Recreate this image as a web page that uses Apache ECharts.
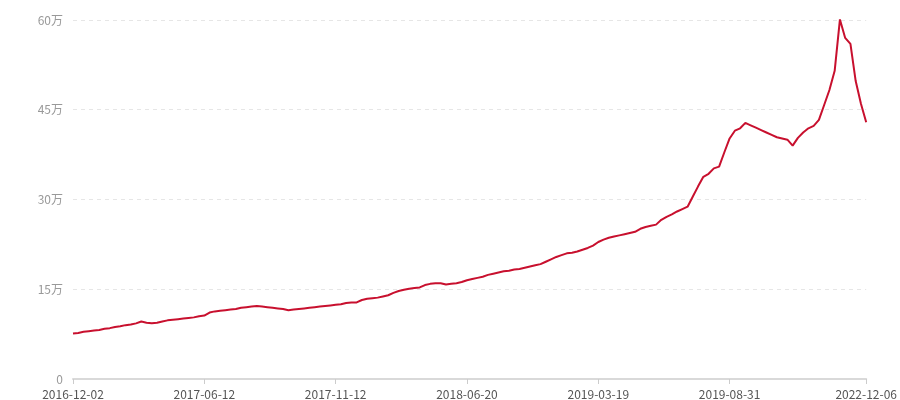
<!DOCTYPE html>
<html>
<head>
<meta charset="utf-8">
<script src="https://cdn.jsdelivr.net/npm/echarts@6/dist/echarts.min.js"></script>
<style>
  html, body { margin: 0; padding: 0; background: #fff; }
  #main { width: 900px; height: 400px; }
</style>
</head>
<body>
<div id="main"></div>
<script>
// 日期（类目轴）
var dates = [
  '2016-12-02','2016-12-09','2016-12-16','2016-12-23','2016-12-30','2017-01-06','2017-01-13','2017-01-20','2017-02-03','2017-02-10',
  '2017-02-17','2017-02-24','2017-03-03','2017-03-10','2017-03-17','2017-03-24','2017-03-31','2017-04-07','2017-04-14','2017-04-21',
  '2017-04-28','2017-05-12','2017-05-19','2017-05-26','2017-06-02','2017-06-12','2017-06-18','2017-06-24','2017-06-30','2017-07-06',
  '2017-07-12','2017-07-18','2017-07-24','2017-07-30','2017-08-05','2017-08-11','2017-08-17','2017-08-23','2017-08-29','2017-09-04',
  '2017-09-10','2017-09-16','2017-09-22','2017-09-28','2017-10-04','2017-10-10','2017-10-16','2017-10-22','2017-10-28','2017-11-04',
  '2017-11-12','2017-11-20','2017-11-28','2017-12-06','2017-12-14','2017-12-22','2017-12-30','2018-01-08','2018-01-17','2018-01-26',
  '2018-02-04','2018-02-13','2018-02-22','2018-03-03','2018-03-12','2018-03-21','2018-03-30','2018-04-08','2018-04-17','2018-04-26',
  '2018-05-05','2018-05-14','2018-05-23','2018-06-01','2018-06-10','2018-06-20','2018-07-01','2018-07-12','2018-07-23','2018-08-03',
  '2018-08-14','2018-08-25','2018-09-05','2018-09-16','2018-09-27','2018-10-08','2018-10-19','2018-10-30','2018-11-10','2018-11-21',
  '2018-12-02','2018-12-13','2018-12-24','2019-01-04','2019-01-15','2019-01-26','2019-02-06','2019-02-17','2019-02-28','2019-03-09',
  '2019-03-19','2019-03-26','2019-04-02','2019-04-09','2019-04-16','2019-04-23','2019-04-30','2019-05-07','2019-05-14','2019-05-21',
  '2019-05-28','2019-06-04','2019-06-11','2019-06-18','2019-06-25','2019-07-02','2019-07-09','2019-07-16','2019-07-23','2019-07-30',
  '2019-08-06','2019-08-12','2019-08-18','2019-08-22','2019-08-27','2019-08-31','2019-10-15','2019-12-01','2020-01-15','2020-03-01',
  '2020-04-15','2020-06-01','2020-07-15','2020-09-01','2020-10-15','2020-12-01','2021-01-15','2021-03-01','2021-04-15','2021-06-01',
  '2021-07-15','2021-09-01','2021-10-15','2021-11-15','2021-12-15','2022-01-01','2022-02-01','2022-04-01','2022-06-01','2022-08-01',
  '2022-10-01','2022-12-06'
];

// 数值（单位：万）
var values = [
  7.6, 7.7, 7.9, 8.0, 8.1, 8.2, 8.4, 8.5, 8.7, 8.8,
  9.0, 9.1, 9.3, 9.6, 9.4, 9.3, 9.4, 9.6, 9.8, 9.9,
  10.0, 10.1, 10.2, 10.3, 10.5, 10.6, 11.1, 11.3, 11.4, 11.5,
  11.6, 11.7, 11.9, 12.0, 12.1, 12.2, 12.1, 12.0, 11.9, 11.8,
  11.7, 11.5, 11.6, 11.7, 11.8, 11.9, 12.0, 12.1, 12.2, 12.3,
  12.4, 12.5, 12.7, 12.8, 12.8, 13.2, 13.4, 13.5, 13.6, 13.8,
  14.0, 14.4, 14.7, 14.9, 15.1, 15.2, 15.3, 15.7, 15.9, 16.0,
  16.0, 15.8, 15.9, 16.0, 16.2, 16.5, 16.7, 16.9, 17.1, 17.4,
  17.6, 17.8, 18.0, 18.1, 18.3, 18.4, 18.6, 18.8, 19.0, 19.2,
  19.6, 20.0, 20.4, 20.7, 21.0, 21.1, 21.3, 21.6, 21.9, 22.3,
  22.9, 23.3, 23.6, 23.8, 24.0, 24.2, 24.4, 24.6, 25.1, 25.4,
  25.6, 25.8, 26.6, 27.1, 27.5, 28.0, 28.4, 28.8, 30.5, 32.2,
  33.8, 34.3, 35.2, 35.5, 37.9, 40.2, 41.5, 41.9, 42.8, 42.4,
  42.0, 41.6, 41.2, 40.8, 40.4, 40.2, 40.0, 39.0, 40.3, 41.2,
  41.9, 42.3, 43.3, 45.8, 48.3, 51.5, 60.1, 57.0, 56.0, 49.8,
  46.0, 42.9
];

var yTicks = [0, 15, 30, 45, 60];

var lastIdx = dates.length - 1;
function showIdx(i) { return i % 25 === 0 || i === lastIdx; }

var myChart = echarts.init(document.getElementById('main'));
var option = {
    animation: false,
    grid: { left: 73, right: 32, top: 20, bottom: 20, containLabel: false },
    xAxis: {
        type: 'category',
        boundaryGap: false,
        data: dates,
        axisLine: { lineStyle: { color: '#d9d9d9', width: 2 } },
        axisTick: { interval: showIdx, length: 5, lineStyle: { color: '#cccccc' } },
        axisLabel: {
            interval: showIdx,
            showMaxLabel: true,
            color: '#555',
            fontSize: 12,
            fontFamily: 'Noto Sans CJK SC',
            margin: 9
        }
    },
    yAxis: {
        type: 'value',
        min: yTicks[0],
        max: yTicks[yTicks.length - 1],
        interval: 15,
        axisLine: { show: false },
        axisTick: { show: false },
        axisLabel: {
            color: '#999',
            fontSize: 12,
            fontFamily: 'Noto Sans CJK SC',
            margin: 10,
            formatter: function (v) { return v === 0 ? '0' : v + '万'; }
        },
        splitLine: { lineStyle: { color: '#e6e6e6', type: [4, 4] } }
    },
    series: [{
        type: 'line',
        data: values,
        showSymbol: false,
        lineStyle: { color: '#c8102e', width: 2 },
        itemStyle: { color: '#c8102e' }
    }]
};
myChart.setOption(option);
</script>
</body>
</html>
